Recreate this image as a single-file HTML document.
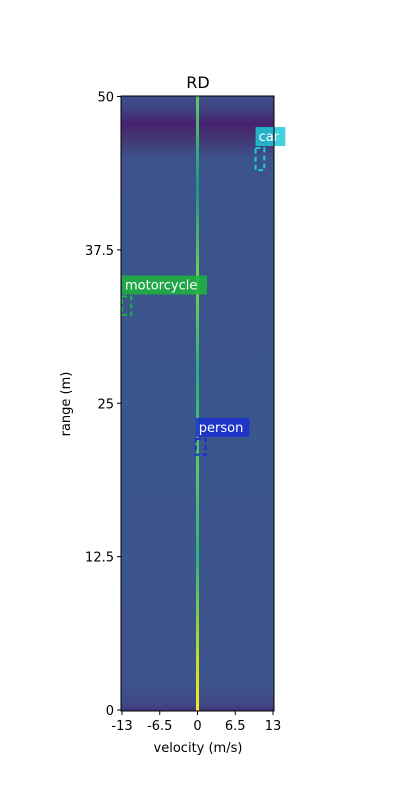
<!DOCTYPE html>
<html><head><meta charset="utf-8"><style>
body{margin:0;background:#fff;}
svg{display:block;font-family:"DejaVu Sans","Liberation Sans",sans-serif;}
</style></head><body>
<svg id="chart" width="400" height="800" viewBox="0 0 400 800">
<defs>
<linearGradient id="bg" x1="0" y1="0" x2="0" y2="1">
<stop offset="0" stop-color="#3d4f8a"/>
<stop offset="0.025" stop-color="#403f80"/>
<stop offset="0.045" stop-color="#46226f"/>
<stop offset="0.07" stop-color="#433672"/>
<stop offset="0.1" stop-color="#3b528b"/>
<stop offset="0.5" stop-color="#3b568c"/>
<stop offset="0.96" stop-color="#3c548b"/>
<stop offset="0.99" stop-color="#404784"/>
<stop offset="1" stop-color="#433375"/>
</linearGradient>
<linearGradient id="cl" x1="0" y1="0" x2="0" y2="1">
<stop offset="0" stop-color="#5ec962"/>
<stop offset="0.15" stop-color="#21918c"/>
<stop offset="0.3" stop-color="#7ad151"/>
<stop offset="0.45" stop-color="#28ae80"/>
<stop offset="0.6" stop-color="#5ec962"/>
<stop offset="0.75" stop-color="#2db27d"/>
<stop offset="0.9" stop-color="#b5de2b"/>
<stop offset="1" stop-color="#fde725"/>
</linearGradient>
</defs>
<text x="198" y="88" font-size="16" text-anchor="middle">RD</text>
<rect x="121" y="96" width="153" height="615" fill="url(#bg)"/>
<g id="marks"></g>
<rect x="121" y="96" width="153" height="615" fill="none" stroke="#000" stroke-width="1"/>
<g id="axes" font-size="13"></g>
<text x="198" y="752" font-size="13" text-anchor="middle">velocity (m/s)</text>
<text transform="translate(70,404) rotate(-90)" font-size="13" text-anchor="middle">range (m)</text>
</svg>
<script>
const xTicks=[-13,-6.5,0,6.5,13];
const xTickLabels=["-13","-6.5","0","6.5","13"];
const yTicks=[0,12.5,25,37.5,50];
const yTickLabels=["0","12.5","25","37.5","50"];
const detLabels=["car","motorcycle","person"];
const detVmin=[10.0,-13,-0.3];
const detVmax=[11.5,-11.4,1.4];
const detRmin=[44.0,32.2,20.8];
const detRmax=[45.8,33.7,22.1];
const detColors=["#22c8d8","#1db53c","#1a2ed0"];
const ns="http://www.w3.org/2000/svg";
const X=v=>122+(v+13)/26*151;
const Y=r=>710-r*12.27;
function mk(t,a,p){const e=document.createElementNS(ns,t);for(const k in a)e.setAttribute(k,a[k]);p.appendChild(e);return e;}
const m=document.getElementById('marks'), ax=document.getElementById('axes');
const line=mk('rect',{x:X(0)-1.5,y:96,width:3,height:615,fill:'url(#cl)'},m);


for(let i=0;i<detLabels.length;i++){
  const x0=X(detVmin[i]),x1=X(detVmax[i]),y0=Y(detRmax[i]),y1=Y(detRmin[i]);
  const b=mk('rect',{x:x0,y:y0,width:x1-x0,height:y1-y0,fill:'none',stroke:detColors[i],'stroke-width':2,'stroke-dasharray':'5,3'},m);
  
  
  const w=detLabels[i].length*7.9+6;
  const bg=mk('rect',{x:x0,y:y0-21,width:w,height:19,fill:detColors[i],opacity:0.85},m);
  
  
  const t=mk('text',{x:x0+3,y:y0-7,fill:'#fff','font-size':13},m);
  t.textContent=detLabels[i];
  
  
}
xTicks.forEach((v,i)=>{
  const l=mk('line',{x1:X(v),x2:X(v),y1:711,y2:715,stroke:'#000'},ax);
  
  
  const t=mk('text',{x:X(v),y:730,'text-anchor':'middle'},ax);
  t.textContent=xTickLabels[i];
  
  
});
yTicks.forEach((r,i)=>{
  const l=mk('line',{x1:117,x2:121,y1:Y(r),y2:Y(r),stroke:'#000'},ax);
  
  
  const t=mk('text',{x:114,y:Y(r)+5,'text-anchor':'end'},ax);
  t.textContent=yTickLabels[i];
  
  
});
</script>
</body></html>
